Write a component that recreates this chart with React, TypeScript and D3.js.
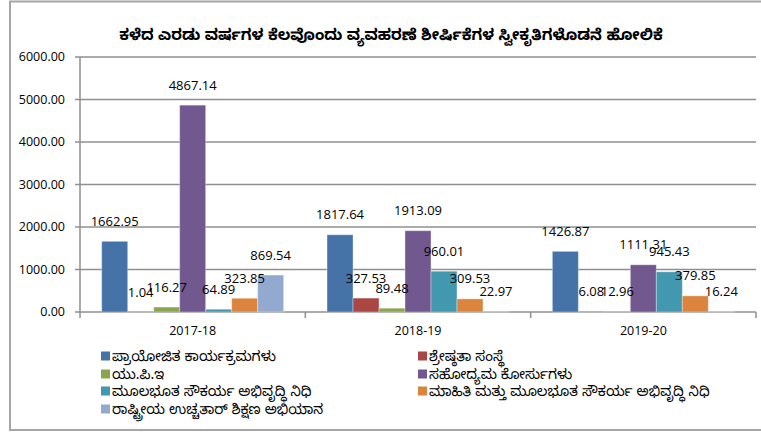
import React from "react";
import * as d3 from "d3";

const categories = ["2017-18", "2018-19", "2019-20"];
const seriesNames = [
  "ಪ್ರಾಯೋಜಿತ ಕಾರ್ಯಕ್ರಮಗಳು",
  "ಶ್ರೇಷ್ಠತಾ ಸಂಸ್ಥೆ",
  "ಯು.ಪಿ.ಇ",
  "ಸಹೋದ್ಯಮ ಕೋರ್ಸುಗಳು",
  "ಮೂಲಭೂತ ಸೌಕರ್ಯ ಅಭಿವೃದ್ಧಿ ನಿಧಿ",
  "ಮಾಹಿತಿ ಮತ್ತು ಮೂಲಭೂತ ಸೌಕರ್ಯ ಅಭಿವೃದ್ಧಿ ನಿಧಿ",
  "ರಾಷ್ಟ್ರೀಯ ಉಚ್ಚತಾರ್ ಶಿಕ್ಷಣ ಅಭಿಯಾನ",
];
const seriesColors = ["#4572A7", "#AA4643", "#89A54E", "#71588F", "#4198AF", "#DB843D", "#93A9CF"];
// values[series][category]
const sponsored = [1662.95, 1817.64, 1426.87];
const excellence = [1.04, 327.53, 6.08];
const upe = [116.27, 89.48, 12.96];
const vocational = [4867.14, 1913.09, 1111.31];
const infraFund = [64.89, 960.01, 945.43];
const infoInfraFund = [323.85, 309.53, 379.85];
const rusa = [869.54, 22.97, 16.24];
const values = [sponsored, excellence, upe, vocational, infraFund, infoInfraFund, rusa];
const yTicks = [0, 1000, 2000, 3000, 4000, 5000, 6000];
const title = "ಕಳೆದ ಎರಡು ವರ್ಷಗಳ ಕೆಲವೊಂದು ವ್ಯವಹರಣೆ ಶೀರ್ಷಿಕೆಗಳ ಸ್ವೀಕೃತಿಗಳೊಡನೆ ಹೋಲಿಕೆ";

const W = 761;
const H = 432;
const left = 80;
const right = 756;
const top = 57;
const bottom = 312;
const numFont = "'Open Sans', 'Liberation Sans', sans-serif";
const knFont = "'Noto Sans Kannada', 'Noto Sans', 'Lohit Kannada', sans-serif";

export default function App() {
  const x0 = d3.scaleBand<string>().domain(categories).range([left, right]).paddingInner(0).paddingOuter(0);
  const bw = x0.bandwidth();
  const gap = 1.67;
  const barW = bw / (seriesNames.length + gap);
  const y = d3.scaleLinear().domain([0, 6000]).range([bottom, top]);

  return (
    <svg width={W} height={H} style={{ position: "absolute", left: 0, top: 0 }}>
      <rect x={0} y={0} width={W} height={H} fill="#fff" />
      <rect x={10} y={1.5} width={W} height={428.5} fill="none" stroke="#a6a6a6" strokeWidth={2} />
      <text x={391} y={40} textAnchor="middle" fontFamily={knFont} fontWeight="bold" fontSize={15.4} fill="#000">
        {title}
      </text>
      {yTicks.map((t) => (
        <g key={t}>
          <line x1={left - 5} x2={right} y1={y(t)} y2={y(t)} stroke="#8f8f8f" strokeWidth={1.5} />
          <text x={65} y={y(t)} dy="0.35em" textAnchor="end" fontFamily={numFont} fontSize={12.5} fill="#000">
            {t.toFixed(2)}
          </text>
        </g>
      ))}
      <line x1={left} x2={left} y1={top} y2={bottom} stroke="#8f8f8f" strokeWidth={1.5} />
      {categories.map((c, ci) => (
        <line key={"t" + c} x1={left + bw * (ci + 1)} x2={left + bw * (ci + 1)} y1={bottom} y2={bottom + 6} stroke="#8f8f8f" strokeWidth={1.5} />
      ))}
      <line x1={left} x2={left} y1={bottom} y2={bottom + 6} stroke="#8f8f8f" strokeWidth={1.5} />
      {categories.map((c) => (
        <text key={c} x={(x0(c) as number) + bw / 2} y={331} dy="0.35em" textAnchor="middle" fontFamily={numFont} fontSize={12.5} fill="#000">
          {c}
        </text>
      ))}
      {values.map((vals, si) =>
        vals.map((v, ci) => {
          const bx = (x0(categories[ci]) as number) + (gap / 2) * barW + si * barW;
          const by = y(v);
          return (
            <rect key={si + "-" + ci} x={bx} y={by} width={barW} height={bottom - by} fill={seriesColors[si]} stroke="#ffffff" strokeOpacity={0.35} strokeWidth={1} />
          );
        })
      )}
      {values.map((vals, si) =>
        vals.map((v, ci) => {
          const bx = (x0(categories[ci]) as number) + (gap / 2) * barW + si * barW;
          const by = y(v);
          return (
            <text key={"l" + si + "-" + ci} x={bx + barW / 2} y={by - 20} dy="0.35em" textAnchor="middle" fontFamily={numFont} fontSize={13} fill="#000">
              {v.toFixed(2)}
            </text>
          );
        })
      )}
      {seriesNames.map((n, i) => {
        const col = i % 2;
        const row = Math.floor(i / 2);
        const sx = col === 0 ? 101 : 418;
        const cy = [356, 374, 391, 409][row];
        return (
          <g key={n}>
            <rect x={sx} y={cy - 4.5} width={9} height={9} fill={seriesColors[i]} />
            <text x={sx + 11} y={cy} dy="0.35em" fontFamily={knFont} fontSize={14} fill="#000">
              {n}
            </text>
          </g>
        );
      })}
    </svg>
  );
}
